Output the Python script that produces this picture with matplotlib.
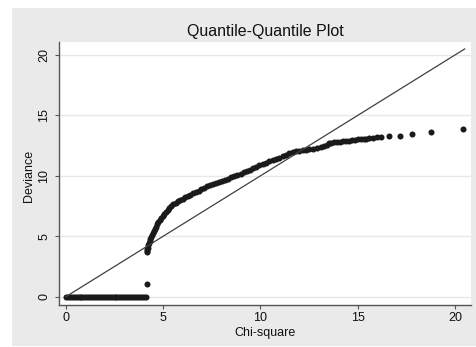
import matplotlib
matplotlib.use("Agg")
import matplotlib.pyplot as plt
from matplotlib.patches import Rectangle

plt.rcParams['font.family'] = ['Liberation Sans', 'DejaVu Sans']

# ---- data ----
zero_chi = [0.00, 0.10, 0.20, 0.30, 0.40, 0.50, 0.60, 0.70, 0.80, 0.90, 1.00,
            1.10, 1.20, 1.30, 1.40, 1.50, 1.60, 1.70, 1.80, 1.90, 2.00, 2.10,
            2.20, 2.30, 2.40, 2.50, 2.60, 2.70, 2.80, 2.90, 3.00, 3.10, 3.20,
            3.30, 3.40, 3.50, 3.60, 3.70, 3.80, 3.90, 4.00, 4.10]
zero_dev = [0, 0, 0, 0, 0, 0, 0, 0, 0, 0, 0, 0, 0, 0, 0, 0, 0, 0, 0, 0, 0, 0,
            0, 0, 0, 0, 0, 0, 0, 0, 0, 0, 0, 0, 0, 0, 0, 0, 0, 0, 0, 0]

mid_chi = [4.15]
mid_dev = [1.05]

curve_chi = [4.15, 4.17, 4.19, 4.21, 4.24, 4.27, 4.30, 4.34, 4.38, 4.42, 4.46,
             4.51, 4.56, 4.62, 4.68, 4.75, 4.82, 4.89, 4.97, 5.05, 5.14, 5.23,
             5.32, 5.40, 5.52, 5.64, 5.76, 5.88, 6.00, 6.13, 6.26, 6.40, 6.54,
             6.68, 6.82, 6.96, 7.11, 7.26, 7.41, 7.56, 7.71, 7.86, 8.02, 8.18,
             8.34, 8.50, 8.66, 8.82, 8.98, 9.14, 9.30, 9.46, 9.62, 9.78, 9.95,
             10.12, 10.29, 10.46, 10.63, 10.80, 10.97, 11.14, 11.31, 11.48,
             11.65, 11.83, 12.00, 12.17, 12.34, 12.50, 12.70, 12.90, 13.10,
             13.28, 13.40, 13.50, 13.65, 13.80, 13.95, 14.10, 14.25, 14.40,
             14.55, 14.70, 14.85, 15.00, 15.15, 15.30, 15.45, 15.60, 15.80,
             16.00, 16.22, 16.60, 17.16, 17.80, 18.77, 20.40]
curve_dev = [3.70, 3.82, 3.94, 4.06, 4.24, 4.41, 4.57, 4.76, 4.94, 5.11, 5.28,
             5.45, 5.61, 5.80, 5.98, 6.17, 6.36, 6.53, 6.70, 6.86, 7.03, 7.19,
             7.35, 7.48, 7.63, 7.77, 7.90, 8.01, 8.11, 8.22, 8.33, 8.45, 8.56,
             8.67, 8.78, 8.90, 9.02, 9.12, 9.22, 9.31, 9.39, 9.48, 9.57, 9.67,
             9.77, 9.87, 9.97, 10.06, 10.16, 10.28, 10.39, 10.51, 10.63, 10.75,
             10.87, 10.98, 11.09, 11.19, 11.30, 11.41, 11.51, 11.62, 11.75,
             11.87, 11.96, 12.03, 12.08, 12.13, 12.17, 12.20, 12.26, 12.31,
             12.37, 12.43, 12.56, 12.70, 12.74, 12.77, 12.79, 12.82, 12.86,
             12.89, 12.92, 12.95, 12.98, 13.01, 13.04, 13.06, 13.08, 13.10,
             13.14, 13.18, 13.25, 13.30, 13.33, 13.47, 13.60, 13.86]

chi_square = zero_chi + mid_chi + curve_chi
deviance = zero_dev + mid_dev + curve_dev

ref_line = [0.0, 20.5]
ticks = [0, 5, 10, 15, 20]
tick_labels = ["0", "5", "10", "15", "20"]

# ---- figure ----
fig = plt.figure(figsize=(4.77, 3.47), dpi=100)
fig.patch.set_facecolor('white')
bg = Rectangle((12 / 477, 1 / 347), 1 - 12 / 477, 338 / 347,
               transform=fig.transFigure, facecolor='#eaeaea',
               edgecolor='none', zorder=-10)
fig.patches.append(bg)

ax = fig.add_axes([0.1243, 0.121, 0.8625, 0.7588])
ax.set_zorder(1)
ax.set_facecolor('white')

ax.scatter(chi_square, deviance, s=19, color='#1a1a1a', linewidths=0, zorder=3)
ax.plot(ref_line, ref_line, color='#404040', lw=0.9, zorder=4)

ax.set_xlim(-0.34, 20.81)
ax.set_ylim(-0.69, 21.1)
ax.set_xticks(ticks)
ax.set_xticklabels(tick_labels)
ax.set_yticks(ticks)
ax.set_yticklabels(tick_labels)

ax.grid(axis='y', color='#e8e8e8', lw=1.0, zorder=0)
ax.set_axisbelow(True)

for s in ['top', 'right']:
    ax.spines[s].set_visible(False)
for s in ['left', 'bottom']:
    ax.spines[s].set_color('#555555')
    ax.spines[s].set_linewidth(1.0)

ax.tick_params(axis='both', direction='out', length=2.7, width=0.8,
               color='#555555', labelsize=9, labelcolor='#111111')
ax.tick_params(axis='x', pad=2.5)
ax.tick_params(axis='y', pad=3.8)
for lbl in ax.get_yticklabels():
    lbl.set_rotation(90)
    lbl.set_va('center')
    lbl.set_ha('right')

ax.set_xlabel("Chi-square", fontsize=9, color='#111111')
ax.xaxis.set_label_coords(0.5, -0.083)
ax.set_ylabel("Deviance", fontsize=9, color='#111111')
ax.yaxis.set_label_coords(-0.059, 0.49)

fig.text(265 / 477, 1 - 31.7 / 347, "Quantile-Quantile Plot", ha='center',
         va='center', fontsize=11.5, color='#111111')

fig.savefig("out.png", dpi=100, facecolor=fig.get_facecolor())
